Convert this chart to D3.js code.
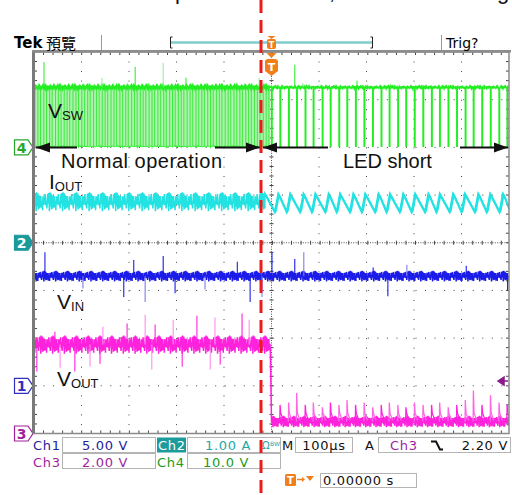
<!DOCTYPE html>
<html>
<head>
<meta charset="utf-8">
<script src="https://cdn.jsdelivr.net/npm/d3@7"></script>
<style>
  body { margin: 0; background: #fff; }
  svg { display: block; font-family: "DejaVu Sans", sans-serif; }
  .note { font-family: "Liberation Sans", Arial, sans-serif; fill: #111; }
</style>
</head>
<body>
<div id="chart"></div>
<script>
// scope settings
const channelNames = ["Ch1", "Ch2", "Ch3", "Ch4"];
const channelScales = [5, 1, 2, 10]; // per div
const channelOffsets = [-3, 0, -4, 2]; // ground marker, divs from centre
const channelColors = ["#1c1ce8", "#22e2e2", "#ff22dd", "#22ee22"];
const timePerDiv = 100; // µs
const triggerLevel = 2.2; // V on Ch3

// generic noise shape (normalised)
const noisePattern = [0.2, -0.7, 0.5, -0.1, 0.9, -0.5, 0.3, -1, 0.6, -0.3, 0.8, -0.8, 0.1, -0.4, 1, -0.6,
  0.4, -0.2, 0.7, -0.9, 0, -0.5, 0.6, -0.3, 0.9, -0.1, 0.5, -0.7, 0.3, -0.6, 0.8];

// Ch4 : V_SW
const vswHigh = 12.6, vswLow = 0.2;
const vswNormalGaps = [6.2, 5.6, 6.8, 5.9, 6.4, 5.3, 7.1, 6.0, 5.7, 6.6, 6.1, 5.5, 6.9]; // µs between drops
const vswShortPulses = [0, 18, 36, 53, 71, 88, 107, 124, 142, 159, 177, 195, 213, 231, 248, 266, 283,
  301, 319, 337, 354, 372, 390, 408, 425, 443, 461, 479, 496];
const vswSpikes = [[-479, 17.9], [-357, 14.6], [-287, 16.9], [-228, 17.7], [-180, 14.6], [-26, 14.6],
  [49, 17.3], [66, 13.5], [180, 14]];

// Ch2 : I_OUT
const ioutNormal = 0.86, ioutRipple = 0.2;
const ioutPeaks = [-14, 14, 39, 67, 92, 120, 144, 172, 197, 225, 249, 277, 302, 330, 354, 382, 407, 435, 460, 487];
const ioutPeak = 1.04, ioutValley = 0.68;

// Ch1 : V_IN
const vinLevel = 11.5, vinNoise = 0.55;
const vinSpikes = [[-477, 14.0], [-397, 10.2], [-311, 9.3], [-290, 13.2], [-266, 8.8], [-228, 13.6],
  [-203, 9.7], [-140, 10.1], [-72, 13.0], [-45, 8.8], [-20, 9.3], [1, 14.0], [49, 13.3], [68, 14.0],
  [214, 12.4], [245, 9.4], [285, 12.7], [410, 12.6], [497, 10.0]];

// Ch3 : V_OUT
const voutNormal = 3.73, voutNormalNoise = 0.38;
const voutShort = 0.5, voutShortNoise = 0.24;
const voutSpikes = [[-456, 4.27], [-355, 4.48], [-304, 4.61], [-266, 4.98], [-245, 4.57], [-207, 4.77],
  [-157, 4.94], [-119, 4.86], [-62, 5.03], [-47, 4.77], [-494, 2.6], [-445, 2.76], [-414, 2.6],
  [-382, 2.81], [-361, 2.93], [-252, 2.68], [-188, 2.81], [-129, 2.68], [-108, 2.89]];
const voutShortSpikes = [1.4, 1.2, 1.3, 1.7, 1.2, 1.3, 1.1, 1.3, 1.2, 1.4, 1.2, 1.3, 1.1, 1.2, 1.3,
  1.2, 1.1, 1.3, 1.2, 1.2, 1.3, 1.1, 1.2, 1.4, 1.8, 1.2, 1.6, 1.3, 1.2];

const W = 512, H = 495;
const plot = { left: 34, right: 509, top: 52, bottom: 433.5 };

const svg = d3.select("#chart").append("svg").attr("width", W).attr("height", H);

const x = d3.scaleLinear().domain([-5 * timePerDiv, 5 * timePerDiv]).range([plot.left, plot.right]);
const divs = d3.scaleLinear().domain([4, -4]).range([plot.top, plot.bottom]);
const yOf = (ch) => (v) => divs(channelOffsets[ch] + v / channelScales[ch]);
const lineOf = (ch) => d3.line().x((d) => x(d[0])).y((d) => yOf(ch)(d[1]));

const minor = (divs(0) - divs(1)) / 5;

// noisy flat stretch
function noisy(t0, t1, step, level, amp, seed) {
  const pts = [];
  let k = seed;
  for (let t = t0; t <= t1; t += step) {
    pts.push([t, level + amp * noisePattern[k % noisePattern.length]]);
    k += 7;
  }
  return pts;
}

// ---------- graticule ----------
const grid = svg.append("g");
[-400, -300, -200, -100, 100, 200, 300, 400].forEach((t) => {
  grid.append("line").attr("x1", x(t)).attr("x2", x(t)).attr("y1", plot.top).attr("y2", plot.bottom)
    .attr("stroke", "#444").attr("stroke-dasharray", `1,${minor - 1}`);
});
[3, 2, 1, -1, -2, -3].forEach((d) => {
  grid.append("line").attr("y1", divs(d)).attr("y2", divs(d)).attr("x1", plot.left).attr("x2", plot.right)
    .attr("stroke", "#444").attr("stroke-dasharray", `1,${minor - 1}`);
});
// centre lines with minor ticks
grid.append("line").attr("x1", x(0)).attr("x2", x(0)).attr("y1", plot.top).attr("y2", plot.bottom)
  .attr("stroke", "#555").attr("stroke-dasharray", "1,1.4");
grid.append("line").attr("y1", divs(0)).attr("y2", divs(0)).attr("x1", plot.left).attr("x2", plot.right)
  .attr("stroke", "#555").attr("stroke-dasharray", "1,1.4");
const tickX = d3.range(plot.left, plot.right + 0.1, minor);
const tickY = d3.range(plot.top, plot.bottom + 0.1, minor);
tickX.forEach((px) => {
  grid.append("line").attr("x1", px).attr("x2", px).attr("y1", divs(0) - 2).attr("y2", divs(0) + 2).attr("stroke", "#444");
  grid.append("line").attr("x1", px).attr("x2", px).attr("y1", plot.top).attr("y2", plot.top + 3).attr("stroke", "#444");
  grid.append("line").attr("x1", px).attr("x2", px).attr("y1", plot.bottom - 3).attr("y2", plot.bottom).attr("stroke", "#444");
});
tickY.forEach((py) => {
  grid.append("line").attr("y1", py).attr("y2", py).attr("x1", x(0) - 2).attr("x2", x(0) + 2).attr("stroke", "#444");
  grid.append("line").attr("y1", py).attr("y2", py).attr("x1", plot.left).attr("x2", plot.left + 3).attr("stroke", "#444");
  grid.append("line").attr("y1", py).attr("y2", py).attr("x1", plot.right - 3).attr("x2", plot.right).attr("stroke", "#444");
});

// ---------- traces ----------
svg.append("clipPath").attr("id", "clip").append("rect")
  .attr("x", plot.left).attr("y", plot.top).attr("width", plot.right - plot.left).attr("height", plot.bottom - plot.top);
const traces = svg.append("g").attr("clip-path", "url(#clip)");

// V_SW before the short: dense switching
const yS = yOf(3);
traces.append("rect").attr("x", x(-500)).attr("width", x(-3) - x(-500))
  .attr("y", yS(vswHigh)).attr("height", yS(vswLow) - yS(vswHigh)).attr("fill", "#aef3ae");
const dropTimes = [];
for (let t = -498, i = 0; t < -4; t += vswNormalGaps[i++ % vswNormalGaps.length]) dropTimes.push(t);
traces.append("g").selectAll("line").data(dropTimes).join("line")
  .attr("x1", (d) => x(d)).attr("x2", (d) => x(d))
  .attr("y1", yS(vswHigh)).attr("y2", (d, i) => yS(vswLow - (i % 5 === 0 ? 0.4 : 0)))
  .attr("stroke", "#30e830").attr("stroke-width", 0.9);
traces.append("path").datum(noisy(-500, -3, 1, vswHigh, 0.3, 2))
  .attr("d", lineOf(3)).attr("fill", "none").attr("stroke", channelColors[3]).attr("stroke-width", 2);
traces.append("path").datum(noisy(-500, -3, 1.3, vswLow, 0.15, 9))
  .attr("d", lineOf(3)).attr("fill", "none").attr("stroke", channelColors[3]).attr("stroke-width", 1);

// V_SW during the short: isolated pulses
const vswShortPts = [[-3, vswHigh]];
vswShortPulses.forEach((p, i) => {
  const next = vswShortPulses[i + 1] ?? 500;
  vswShortPts.push([p, vswHigh], [p, vswLow], [p + 1.2, vswLow], [p + 1.2, vswHigh]);
  noisy(p + 2, next - 1, 1, vswHigh, 0.25, i).forEach((q) => vswShortPts.push(q));
});
traces.append("path").datum(vswShortPts)
  .attr("d", lineOf(3)).attr("fill", "none").attr("stroke", channelColors[3]).attr("stroke-width", 1.4);
traces.append("g").selectAll("line").data(vswSpikes).join("line")
  .attr("x1", (d) => x(d[0])).attr("x2", (d) => x(d[0]))
  .attr("y1", yS(vswHigh)).attr("y2", (d) => yS(d[1]))
  .attr("stroke", (d, i) => (i % 2 ? "#8ef08e" : channelColors[3])).attr("stroke-width", 1);

// I_OUT
const ioutNormalPts = noisy(-500, -14, 0.9, ioutNormal, ioutRipple, 3);
const ioutShortPts = [];
ioutPeaks.forEach((p, i) => {
  const next = ioutPeaks[i + 1] ?? 510;
  ioutShortPts.push([p, ioutPeak], [p + 3, ioutPeak - 0.05], [next - 8, ioutValley], [next - 6, ioutValley + 0.04]);
});
traces.append("path").datum(ioutNormalPts.concat(ioutShortPts))
  .attr("d", lineOf(1)).attr("fill", "none").attr("stroke", channelColors[1]).attr("stroke-width", 1.5);
traces.append("path").datum(ioutShortPts.map((d) => [d[0] + 1.2, d[1] - 0.04]))
  .attr("d", lineOf(1)).attr("fill", "none").attr("stroke", channelColors[1]).attr("stroke-width", 2.2);

// V_IN
const yI = yOf(0);
traces.append("path").datum(noisy(-500, 500, 0.8, vinLevel, vinNoise, 11))
  .attr("d", lineOf(0)).attr("fill", "none").attr("stroke", channelColors[0]).attr("stroke-width", 1.5);
traces.append("g").selectAll("line").data(vinSpikes).join("line")
  .attr("x1", (d) => x(d[0])).attr("x2", (d) => x(d[0]))
  .attr("y1", yI(vinLevel)).attr("y2", (d) => yI(d[1]))
  .attr("stroke", (d, i) => (i % 3 === 1 ? "#7c7cf0" : channelColors[0])).attr("stroke-width", 1.1);

// V_OUT
const yO = yOf(2);
const voutPts = noisy(-500, -2, 0.8, voutNormal, voutNormalNoise, 5)
  .concat([[0, voutShort]], noisy(1, 500, 0.7, voutShort, voutShortNoise, 17));
traces.append("path").datum(voutPts)
  .attr("d", lineOf(2)).attr("fill", "none").attr("stroke", channelColors[2]).attr("stroke-width", 1.5);
traces.append("g").selectAll("line").data(voutSpikes).join("line")
  .attr("x1", (d) => x(d[0])).attr("x2", (d) => x(d[0]))
  .attr("y1", yO(voutNormal)).attr("y2", (d) => yO(d[1]))
  .attr("stroke", (d, i) => (i % 2 ? "#ff8cee" : channelColors[2])).attr("stroke-width", 1.1);
traces.append("g").selectAll("path").data(vswShortPulses.slice(1)).join("path")
  .attr("d", (p, i) => lineOf(2)([[p - 0.5, voutShort], [p, voutShortSpikes[i + 1]], [p + 1.5, 0.85], [p + 7, 0.55]]))
  .attr("fill", "none").attr("stroke", (p, i) => (i % 3 ? "#ff66e6" : channelColors[2])).attr("stroke-width", 1.3);

// ---------- annotations ----------
const notes = svg.append("g");
const arrowY = yS(0);
const arrows = [[36, 77, -1], [215, 260, 1], [263, 328, -1], [460, 508, 1]];
arrows.forEach(([a, b, dir]) => {
  const tip = dir < 0 ? a : b;
  notes.append("line").attr("x1", a).attr("x2", b).attr("y1", arrowY).attr("y2", arrowY)
    .attr("stroke", "#111").attr("stroke-width", 2);
  notes.append("path").attr("d", `M${tip},${arrowY}L${tip - dir * 14},${arrowY - 5}L${tip - dir * 14},${arrowY + 5}Z`)
    .attr("fill", "#111");
});
notes.append("text").attr("class", "note").attr("x", 61).attr("y", 168).attr("font-size", 20)
  .attr("textLength", 161).text("Normal operation");
notes.append("text").attr("class", "note").attr("x", 343).attr("y", 168).attr("font-size", 20).text("LED short");

const subLabels = [
  { main: "V", sub: "SW", x: 48, y: 118 },
  { main: "I", sub: "OUT", x: 49, y: 189 },
  { main: "V", sub: "IN", x: 57, y: 309 },
  { main: "V", sub: "OUT", x: 57, y: 386 },
];
subLabels.forEach((d) => {
  const t = notes.append("text").attr("class", "note").attr("x", d.x).attr("y", d.y).attr("font-size", 21);
  t.append("tspan").text(d.main);
  t.append("tspan").attr("font-size", 13).attr("dy", 2).text(d.sub);
});

// ---------- channel markers ----------
const markers = [
  { label: "4", ch: 3, fill: "#fff", stroke: "#26a826", text: "#26a826" },
  { label: "2", ch: 1, fill: "#1a9a9a", stroke: "#1a9a9a", text: "#fff" },
  { label: "1", ch: 0, fill: "#fff", stroke: "#3030c0", text: "#3030c0" },
  { label: "3", ch: 2, fill: "#fff", stroke: "#a020a0", text: "#a020a0" },
];
markers.forEach((m) => {
  const my = divs(channelOffsets[m.ch]);
  svg.append("path").attr("d", `M14.5,${my - 7.5}H28L33,${my}L28,${my + 7.5}H14.5Z`)
    .attr("fill", m.fill).attr("stroke", m.stroke).attr("stroke-width", 1.2);
  svg.append("text").attr("x", 21.5).attr("y", my + 5.5).attr("text-anchor", "middle")
    .attr("font-size", 14).attr("font-weight", "bold").attr("fill", m.text).text(m.label);
});
// trigger level arrow on the right
const tly = yO(triggerLevel);
svg.append("path").attr("d", `M498,${tly}L504,${tly - 4}V${tly + 4}Z M502,${tly}H508`)
  .attr("fill", "#8a1a8a").attr("stroke", "#8a1a8a").attr("stroke-width", 1.5);

// ---------- frame ----------
svg.append("rect").attr("x", plot.left).attr("y", plot.top).attr("width", plot.right - plot.left)
  .attr("height", plot.bottom - plot.top).attr("fill", "none").attr("stroke", "#8a8a8a").attr("stroke-width", 1.5);
svg.append("rect").attr("x", 32).attr("y", plot.top).attr("width", 3).attr("height", plot.bottom - plot.top).attr("fill", "#7a7a7a");
svg.append("rect").attr("x", 32).attr("y", 50).attr("width", 479).attr("height", 2.5).attr("fill", "#8c8c8c");

// ---------- header ----------
const head = svg.append("g");
head.append("text").attr("x", 14).attr("y", 48).attr("font-size", 15).attr("font-weight", "bold").text("Tek");
head.append("text").attr("x", 46).attr("y", 49).attr("font-size", 15)
  .attr("font-family", "'Noto Sans CJK TC', sans-serif").text("預覽");
head.append("text").attr("x", 446).attr("y", 48).attr("font-size", 14).text("Trig?");
[101.5, 441.5].forEach((px) => head.append("line").attr("x1", px).attr("x2", px).attr("y1", 35).attr("y2", 50).attr("stroke", "#999"));
head.append("line").attr("x1", 171).attr("x2", 372).attr("y1", 42.5).attr("y2", 42.5).attr("stroke", "#80cccc").attr("stroke-width", 2.5);
head.append("path").attr("d", "M172.5,37H170.5V48H172.5 M370.5,37H372.5V48H370.5").attr("fill", "none").attr("stroke", "#222");
const orange = "#f07f1a";
const tx = x(0);
head.append("path").attr("d", `M${tx - 4},36H${tx + 4}L${tx},39Z`).attr("fill", orange);
head.append("rect").attr("x", tx - 4.5).attr("y", 39).attr("width", 9).attr("height", 10).attr("rx", 2).attr("fill", orange);
head.append("text").attr("x", tx).attr("y", 47.5).attr("text-anchor", "middle").attr("font-size", 8).attr("font-weight", "bold").attr("fill", "#fff").text("T");
head.append("path").attr("d", `M${tx - 5},53H${tx + 5}L${tx},58Z`).attr("fill", orange);
head.append("path").attr("d", `M${tx - 6.5},62Q${tx - 6.5},59 ${tx - 3.5},59H${tx + 3.5}Q${tx + 6.5},59 ${tx + 6.5},62V71L${tx},76L${tx - 6.5},71Z`).attr("fill", orange);
head.append("text").attr("x", tx).attr("y", 71).attr("text-anchor", "middle").attr("font-size", 11).attr("font-weight", "bold").attr("fill", "#fff").text("T");

// cut-off caption above the screenshot
[["p", 175], [",", 329], ["g", 497]].forEach(([s, px]) =>
  svg.append("text").attr("class", "note").attr("x", px).attr("y", -1).attr("font-size", 22).text(s));

// ---------- status bar ----------
const bar = svg.append("g").attr("font-size", 13).attr("letter-spacing", 0.7);
const boxes = [[62.5, 437.5, 93], [187.5, 437.5, 93], [295.5, 437.5, 57], [378.5, 437.5, 132],
  [62.5, 453.5, 93], [187.5, 453.5, 93], [320.5, 473.5, 96]];
boxes.forEach(([bx, by, bw]) => bar.append("rect").attr("x", bx).attr("y", by).attr("width", bw)
  .attr("height", bx === 320.5 ? 14 : 15).attr("fill", "#fff").attr("stroke", "#b4b4b4"));
bar.append("rect").attr("x", 157).attr("y", 437.5).attr("width", 29).attr("height", 15).attr("fill", "#1b9b9b");
const chText = ["#23239b", "#1b9b9b", "#a01ea0", "#1a9a1a"];
const rows = [
  { t: "Ch1", x: 33, y: 450, c: chText[0] },
  { t: `${channelScales[0].toFixed(2)} V`, x: 105, y: 450, c: chText[0], a: "middle" },
  { t: "Ch2", x: 158, y: 450, c: "#fff" },
  { t: `${channelScales[1].toFixed(2)} A`, x: 205, y: 450, c: "#20a8a8" },
  { t: "M", x: 282, y: 450, c: "#111" },
  { t: `${timePerDiv}µs`, x: 324, y: 450, c: "#111", a: "middle" },
  { t: "A", x: 365, y: 450, c: "#111" },
  { t: "Ch3", x: 390, y: 450, c: chText[2] },
  { t: `${triggerLevel.toFixed(2)} V`, x: 508, y: 450, c: "#111", a: "end" },
  { t: "Ch3", x: 33, y: 467, c: chText[2] },
  { t: `${channelScales[2].toFixed(2)} V`, x: 105, y: 467, c: chText[2], a: "middle" },
  { t: "Ch4", x: 157, y: 467, c: chText[3] },
  { t: `${channelScales[3].toFixed(1)} V`, x: 226, y: 467, c: chText[3], a: "middle" },
  { t: "0.00000 s", x: 323, y: 485, c: "#111" },
];
rows.forEach((r) => bar.append("text").attr("x", r.x).attr("y", r.y).attr("fill", r.c)
  .attr("text-anchor", r.a || "start").text(r.t));
bar.append("text").attr("x", 262).attr("y", 449).attr("font-size", 10).attr("letter-spacing", 0).attr("fill", "#20a8a8").text("Ω");
bar.append("text").attr("x", 270).attr("y", 446).attr("font-size", 6).attr("letter-spacing", 0).attr("fill", "#20a8a8").text("BW");
bar.append("path").attr("d", "M431,441.5H436L440,449.5H443").attr("fill", "none").attr("stroke", "#111").attr("stroke-width", 2);
bar.append("rect").attr("x", 285).attr("y", 474).attr("width", 11).attr("height", 12).attr("rx", 1.5).attr("fill", orange);
bar.append("text").attr("x", 290.5).attr("y", 484).attr("text-anchor", "middle").attr("font-size", 10).attr("font-weight", "bold").attr("fill", "#fff").attr("letter-spacing", 0).text("T");
bar.append("path").attr("d", "M297,479.5H303").attr("stroke", orange).attr("stroke-width", 1.5);
bar.append("path").attr("d", "M302,477L305,479.5L302,482Z M306,476H314L310,481Z").attr("fill", orange);

// red dashed marker across the whole picture
svg.append("line").attr("x1", 261).attr("x2", 261).attr("y1", 0).attr("y2", H)
  .attr("stroke", "#ee1a1a").attr("stroke-width", 3).attr("stroke-dasharray", "13,7");
</script>
</body>
</html>
